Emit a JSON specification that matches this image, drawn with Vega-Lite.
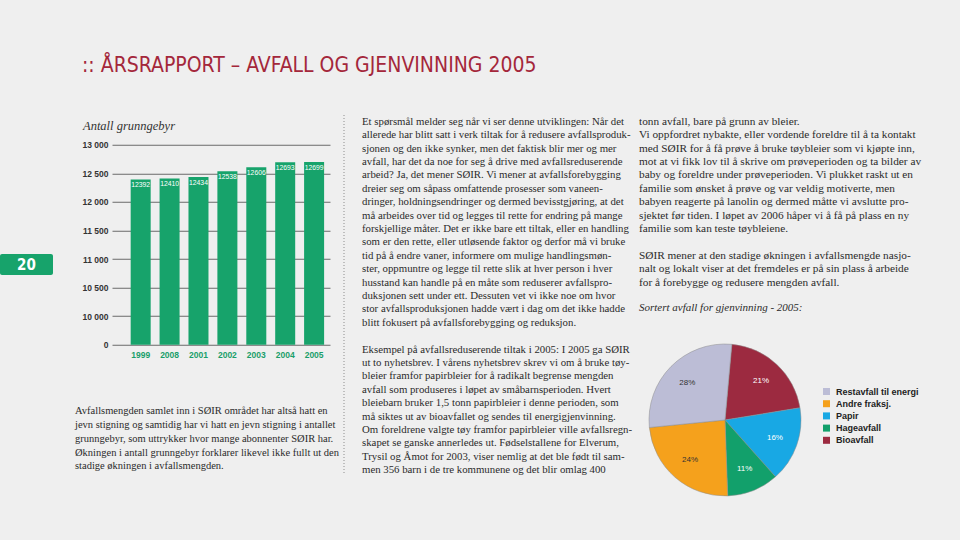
{
  "$schema": "https://vega.github.io/schema/vega-lite/v6.json",
  "background": "#efefef",
  "padding": {"left": 0, "top": 54, "right": 0, "bottom": 48},
  "title": {
    "text": "::  ÅRSRAPPORT – AVFALL OG GJENVINNING 2005",
    "anchor": "start",
    "frame": "group",
    "dx": 82,
    "offset": 39,
    "font": "Liberation Sans Narrow, DejaVu Sans Condensed, sans-serif",
    "fontSize": 21,
    "fontWeight": "normal",
    "color": "#a4273b"
  },
  "config": {"view": {"stroke": null}},
  "datasets": {
    "fees": [
      {"year": "1999", "fees": 12392},
      {"year": "2008", "fees": 12410},
      {"year": "2001", "fees": 12434},
      {"year": "2002", "fees": 12538},
      {"year": "2003", "fees": 12606},
      {"year": "2004", "fees": 12693},
      {"year": "2005", "fees": 12699}
    ],
    "sorted": [
      {"type": "Bioavfall", "share": 0.21, "order": 1},
      {"type": "Papir", "share": 0.16, "order": 2},
      {"type": "Hageavfall", "share": 0.11, "order": 3},
      {"type": "Andre fraksj.", "share": 0.24, "order": 4},
      {"type": "Restavfall til energi", "share": 0.28, "order": 5}
    ],
    "col1": [
      {"line": 1, "text": "Avfallsmengden samlet inn i SØIR området har altså hatt en"},
      {"line": 2, "text": "jevn stigning og samtidig har vi hatt en jevn stigning i antallet"},
      {"line": 3, "text": "grunngebyr, som uttrykker hvor mange abonnenter SØIR har."},
      {"line": 4, "text": "Økningen i antall grunngebyr forklarer likevel ikke fullt ut den"},
      {"line": 5, "text": "stadige økningen i avfallsmengden."}
    ],
    "col2": [
      {"line": 1, "text": "Et spørsmål melder seg når vi ser denne utviklingen: Når det"},
      {"line": 2, "text": "allerede har blitt satt i verk tiltak for å redusere avfallsproduk-"},
      {"line": 3, "text": "sjonen og den ikke synker, men det faktisk blir mer og mer"},
      {"line": 4, "text": "avfall, har det da noe for seg å drive med avfallsreduserende"},
      {"line": 5, "text": "arbeid? Ja, det mener SØIR. Vi mener at avfallsforebygging"},
      {"line": 6, "text": "dreier seg om såpass omfattende prosesser som vaneen-"},
      {"line": 7, "text": "dringer, holdningsendringer og dermed bevisstgjøring, at det"},
      {"line": 8, "text": "må arbeides over tid og legges til rette for endring på mange"},
      {"line": 9, "text": "forskjellige måter. Det er ikke bare ett tiltak, eller en handling"},
      {"line": 10, "text": "som er den rette, eller utløsende faktor og derfor må vi bruke"},
      {"line": 11, "text": "tid på å endre vaner, informere om mulige handlingsmøn-"},
      {"line": 12, "text": "ster, oppmuntre og legge til rette slik at hver person i hver"},
      {"line": 13, "text": "husstand kan handle på en måte som reduserer avfallspro-"},
      {"line": 14, "text": "duksjonen sett under ett. Dessuten vet vi ikke noe om hvor"},
      {"line": 15, "text": "stor avfallsproduksjonen hadde vært i dag om det ikke hadde"},
      {"line": 16, "text": "blitt fokusert på avfallsforebygging og reduksjon."},
      {"line": 17, "text": ""},
      {"line": 18, "text": "Eksempel på avfallsreduserende tiltak i 2005: I 2005 ga SØIR"},
      {"line": 19, "text": "ut to nyhetsbrev. I vårens nyhetsbrev skrev vi om å bruke tøy-"},
      {"line": 20, "text": "bleier framfor papirbleier for å radikalt begrense mengden"},
      {"line": 21, "text": "avfall som produseres i løpet av småbarnsperioden. Hvert"},
      {"line": 22, "text": "bleiebarn bruker 1,5 tonn papirbleier i denne perioden, som"},
      {"line": 23, "text": "må siktes ut av bioavfallet og sendes til energigjenvinning."},
      {"line": 24, "text": "Om foreldrene valgte tøy framfor papirbleier ville avfallsregn-"},
      {"line": 25, "text": "skapet se ganske annerledes ut. Fødselstallene for Elverum,"},
      {"line": 26, "text": "Trysil og Åmot for 2003, viser nemlig at det ble født til sam-"},
      {"line": 27, "text": "men 356 barn i de tre kommunene og det blir omlag 400"}
    ],
    "col3": [
      {"line": 1, "text": "tonn avfall, bare på grunn av bleier."},
      {"line": 2, "text": "Vi oppfordret nybakte, eller vordende foreldre til å ta kontakt"},
      {"line": 3, "text": "med SØIR for å få prøve å bruke tøybleier som vi kjøpte inn,"},
      {"line": 4, "text": "mot at vi fikk lov til å skrive om prøveperioden og ta bilder av"},
      {"line": 5, "text": "baby og foreldre under prøveperioden. Vi plukket raskt ut en"},
      {"line": 6, "text": "familie som ønsket å prøve og var veldig motiverte, men"},
      {"line": 7, "text": "babyen reagerte på lanolin og dermed måtte vi avslutte pro-"},
      {"line": 8, "text": "sjektet før tiden. I løpet av 2006 håper vi å få på plass en ny"},
      {"line": 9, "text": "familie som kan teste tøybleiene."},
      {"line": 10, "text": ""},
      {"line": 11, "text": "SØIR mener at den stadige økningen i avfallsmengde nasjo-"},
      {"line": 12, "text": "nalt og lokalt viser at det fremdeles er på sin plass å arbeide"},
      {"line": 13, "text": "for å forebygge og redusere mengden avfall."}
    ]
  },
  "spacing": 0,
  "hconcat": [
    {
      "spacing": 0,
      "vconcat": [
        {
          "width": 75,
          "height": 139,
          "data": {"values": [{}]},
          "mark": {"type": "text"},
          "encoding": {"text": {"value": ""}}
        },
        {
          "width": 53,
          "height": 21,
          "data": {"values": [{"page": "20"}]},
          "view": {"fill": "#17a36b", "cornerRadius": 2, "stroke": null},
          "mark": {"type": "text", "color": "white", "font": "Liberation Sans Narrow, DejaVu Sans Condensed, sans-serif", "fontSize": 15, "fontWeight": "bold", "align": "center", "baseline": "middle"},
          "encoding": {"text": {"field": "page", "type": "nominal"}}
        }
      ]
    },
    {
      "spacing": 3.75,
      "vconcat": [
        {
          "width": 218,
          "height": 22,
          "data": {"values": [{"heading": "Antall grunngebyr"}]},
          "mark": {"type": "text", "align": "left", "baseline": "middle", "font": "Liberation Serif", "fontStyle": "italic", "fontSize": 12.5, "color": "#333333"},
          "encoding": {
            "x": {"value": -29},
            "text": {"field": "heading", "type": "nominal"}
          }
        },
        {
          "width": 218,
          "height": 200,
          "data": {"name": "fees"},
          "encoding": {
            "x": {
              "field": "year", "type": "nominal", "sort": null,
              "scale": {"paddingInner": 0.308, "paddingOuter": 0.425, "align": 0.76},
              "axis": {"title": null, "labelAngle": 0, "ticks": false, "domain": false, "grid": false, "labelColor": "#1a9e6a", "labelFont": "Liberation Sans", "labelFontSize": 8.5, "labelFontWeight": "bold", "labelPadding": 6, "minExtent": 56, "maxExtent": 56}
            },
            "y": {
              "field": "fees", "type": "quantitative",
              "scale": {"domain": [9500, 13000], "zero": false, "nice": false},
              "axis": {
                "title": null,
                "values": [9500, 10000, 10500, 11000, 11500, 12000, 12500, 13000],
                "labelExpr": "datum.value <= 9500 ? '0' : replace(format(datum.value, ','), ',', ' ')",
                "ticks": false, "domain": false, "grid": true,
                "gridColor": "#6b6b6b", "gridWidth": 1, "gridOpacity": 1,
                "labelFont": "Liberation Sans", "labelFontSize": 8.5, "labelFontWeight": "bold", "labelColor": "#333333",
                "labelPadding": 4, "minExtent": 37, "maxExtent": 37
              }
            }
          },
          "layer": [
            {"mark": {"type": "bar", "color": "#17a36b"}, "encoding": {"y2": {"datum": 9500}}},
            {"mark": {"type": "text", "color": "white", "baseline": "top", "dy": 3, "fontSize": 6.8, "font": "Liberation Sans"}, "encoding": {"text": {"field": "fees", "type": "quantitative", "format": "d"}}}
          ]
        },
        {
          "width": 231,
          "height": {"step": 13.75},
          "data": {"name": "col1"},
          "mark": {"type": "text", "align": "left", "baseline": "middle", "font": "Liberation Serif", "fontSize": 10.5, "color": "#2b2b2b"},
          "encoding": {
            "y": {"field": "line", "type": "ordinal", "axis": null},
            "x": {"value": -37},
            "text": {"field": "text", "type": "nominal"}
          }
        }
      ]
    },
    {
      "width": 18,
      "height": 360,
      "data": {"values": [{}]},
      "mark": {"type": "rule", "color": "#8d8d8d", "strokeDash": [1, 2], "strokeWidth": 1},
      "encoding": {"x": {"value": 0}}
    },
    {
      "width": 277,
      "height": {"step": 13.4},
      "data": {"name": "col2"},
      "mark": {"type": "text", "align": "left", "baseline": "middle", "font": "Liberation Serif", "fontSize": 10.8, "color": "#2b2b2b"},
      "encoding": {
        "y": {"field": "line", "type": "ordinal", "axis": null},
        "x": {"value": 0},
        "text": {"field": "text", "type": "nominal"}
      }
    },
    {
      "spacing": 11,
      "vconcat": [
        {
          "width": 322,
          "height": {"step": 13.4},
          "data": {"name": "col3"},
          "mark": {"type": "text", "align": "left", "baseline": "middle", "font": "Liberation Serif", "fontSize": 11.3, "color": "#2b2b2b"},
          "encoding": {
            "y": {"field": "line", "type": "ordinal", "axis": null},
            "x": {"value": 0},
            "text": {"field": "text", "type": "nominal"}
          }
        },
        {
          "width": 172,
          "height": 152,
          "data": {"name": "sorted"},
          "title": {"text": "Sortert avfall for gjenvinning - 2005:", "anchor": "start", "frame": "bounds", "offset": 30.5, "font": "Liberation Serif", "fontStyle": "italic", "fontSize": 11, "fontWeight": "normal", "color": "#2b2b2b"},
          "encoding": {
            "theta": {"field": "share", "type": "quantitative", "stack": true, "scale": {"range": [0.09, 6.3732]}},
            "order": {"field": "order", "type": "ordinal"}
          },
          "layer": [
            {
              "mark": {"type": "arc", "stroke": "#8c8c8c", "strokeWidth": 0.5},
              "encoding": {
                "color": {
                  "field": "type", "type": "nominal",
                  "scale": {
                    "domain": ["Restavfall til energi", "Andre fraksj.", "Papir", "Hageavfall", "Bioavfall"],
                    "range": ["#bcbdd6", "#f5a11c", "#18a8e4", "#12a06b", "#9c2a40"]
                  },
                  "legend": {
                    "orient": "none", "legendX": 822, "legendY": 272, "title": null,
                    "symbolType": "square", "symbolSize": 49, "symbolStrokeWidth": 0, "symbolOpacity": 1,
                    "labelFont": "Liberation Sans", "labelFontSize": 9, "labelFontWeight": "bold", "labelColor": "#222222",
                    "rowPadding": 2.2, "labelOffset": 5
                  }
                }
              }
            },
            {
              "mark": {"type": "text", "radius": 53, "fontSize": 8, "font": "Liberation Sans"},
              "encoding": {
                "text": {"field": "share", "type": "quantitative", "format": ".0%"},
                "color": {
                  "condition": {"test": "datum.type == 'Restavfall til energi' || datum.type == 'Andre fraksj.'", "value": "#333333"},
                  "value": "#ffffff"
                }
              }
            }
          ]
        }
      ]
    }
  ]
}
